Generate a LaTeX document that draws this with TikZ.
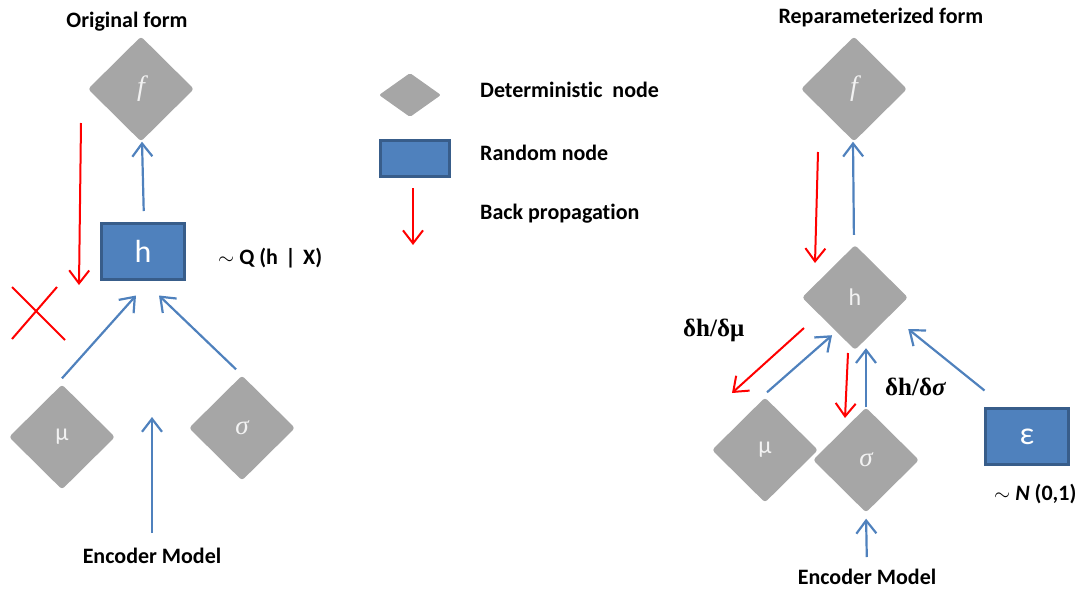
\documentclass[tikz,border=0pt]{standalone}
\usepackage{fontspec}
\setmainfont{Carlito}[Ligatures={NoCommon}]
\newfontfamily\serifgr{Liberation Serif}
\usetikzlibrary{shapes.geometric,arrows.meta,calc}
\definecolor{dgray}{HTML}{A6A6A6}
\definecolor{rblue}{HTML}{4F81BD}
\definecolor{rborder}{HTML}{385D8A}
\definecolor{ablue}{HTML}{4F81BD}
\definecolor{dtext}{HTML}{F2F2F2}
\tikzset{
  detnode/.style={diamond, fill=dgray, draw=none, inner sep=0pt, aspect=1,
    minimum width=106pt, minimum height=105pt, rounded corners=3pt, text=dtext},
  randnode/.style={rectangle, fill=rblue, draw=rborder, line width=3pt, inner sep=0pt,
    minimum width=83pt, minimum height=56pt, text=white},
  fwd/.style={draw=ablue, line width=2.2pt, -{Straight Barb[length=13pt,width=20pt]}},
  back/.style={draw=red, line width=2pt, -{Straight Barb[length=13pt,width=20pt]}},
  lbl/.style={font=\fontsize{22}{26}\selectfont\bfseries, text=black, inner sep=0pt},
  dlbl/.style={font=\fontsize{25}{28}\selectfont\serifgr\bfseries, text=black, inner sep=0pt},
  crossline/.style={draw=red, line width=2pt}
}
\begin{document}
\begin{tikzpicture}[x=1pt,y=-1pt]
\useasboundingbox (0,0) rectangle (1085,592);

% ---------------- Left: original form ----------------
\node[lbl] (titleL) at (127,22) {Original form};
\node[detnode, font=\fontsize{28}{30}\selectfont\serifgr\itshape] (fL) at (141,89) {f};
\node[randnode, font=\fontsize{32}{34}\selectfont] (hL) at (143,251.5) {h};
\node[lbl, anchor=west] (qL) at (218,258) {$\sim$ Q (h\,\,|\,\,X)};
\node[detnode, font=\fontsize{24}{26}\selectfont] (muL) at (62,437) {μ};
\node[detnode, font=\fontsize{27}{28}\selectfont\serifgr\itshape] (sigL) at (242,428) {σ};
\node[lbl] (encL) at (152,556) {Encoder Model};

\draw[fwd, shorten <=11pt] ([xshift=1pt]hL.north) -- ([xshift=1pt]fL.south);
\coordinate (bL1) at (81,123);
\coordinate (bL2) at (79,285);
\draw[back] (bL1) -- (bL2);
\coordinate (x1) at (12,287);
\coordinate (x2) at (65,340);
\coordinate (x3) at (57,287);
\coordinate (x4) at (12,339);
\draw[crossline] (x1) -- (x2);
\draw[crossline] (x3) -- (x4);
\draw[fwd] ($(muL.north)+(0,-6)$) -- ($(hL.south)+(-7,14.5)$);
\draw[fwd] ($(sigL.north)+(-6,-6)$) -- ($(hL.south)+(16,14.5)$);
\coordinate (encLtip) at (152,417);
\draw[fwd, shorten <=15pt] (encL.north) -- (encLtip);

% ---------------- Legend ----------------
\node[diamond, fill=dgray, inner sep=0pt, minimum width=62pt, minimum height=44pt, rounded corners=2pt] (legD) at (410,95) {};
\node[randnode, minimum width=69pt, minimum height=36pt] (legR) at (415,158.5) {};
\coordinate (legA1) at (413,188);
\coordinate (legA2) at (413,245);
\draw[back] (legA1) -- (legA2);
\node[lbl, anchor=west] (legDt) at (480,90) {Deterministic\ \ node};
\node[lbl, anchor=west] (legRt) at (480,153) {Random node};
\node[lbl, anchor=west] (legAt) at (480,214) {Back propagation};

% ---------------- Right: reparameterized form ----------------
\node[lbl] (titleR) at (881,18) {Reparameterized form};
\node[detnode, font=\fontsize{28}{30}\selectfont\serifgr\itshape] (fR) at (854,89) {f};
\node[detnode, font=\fontsize{24}{26}\selectfont] (hR) at (855,297.5) {h};
\node[detnode, font=\fontsize{24}{26}\selectfont] (muR) at (765,450) {μ};
\node[detnode, font=\fontsize{27}{28}\selectfont\serifgr\itshape] (sigR) at (866,460) {σ};
\node[randnode, font=\fontsize{32}{34}\selectfont] (eps) at (1027,436.5) {ε};
\node[lbl, anchor=west] (nR) at (994,494) {$\sim$ \textit{N} (0,1)};
\node[lbl] (encR) at (867,577) {Encoder Model};
\node[dlbl, anchor=west] (dmu) at (683,330) {δh/δμ};
\node[dlbl, anchor=west] (dsig) at (885,387) {δh/δ\textit{σ}};

\draw[fwd, shorten <=10pt] ([xshift=-1pt]hR.north) -- ([xshift=-1pt]fR.south);
\coordinate (bR1) at (818,152);
\coordinate (bR2) at (815,263);
\draw[back] (bR1) -- (bR2);
\coordinate (bR3) at (804,328);
\coordinate (bR4) at (732,393);
\draw[back] (bR3) -- (bR4);
\draw[fwd] ($(muR.north)+(2,-5)$) -- ($(hR.south)+(-23,-15)$);
\coordinate (bR5) at (848,353);
\coordinate (bR6) at (845,418);
\draw[back] (bR5) -- (bR6);
\draw[fwd] (sigR.north) -- ($(hR.south)+(11,-2)$);
\draw[fwd] ($(eps.north west)+(0.5,-16.5)$) -- ($(hR.east)+(0,31.5)$);
\draw[fwd, shorten <=12pt, shorten >=6pt] (encR.north) -- (sigR.south);
\end{tikzpicture}
\end{document}
